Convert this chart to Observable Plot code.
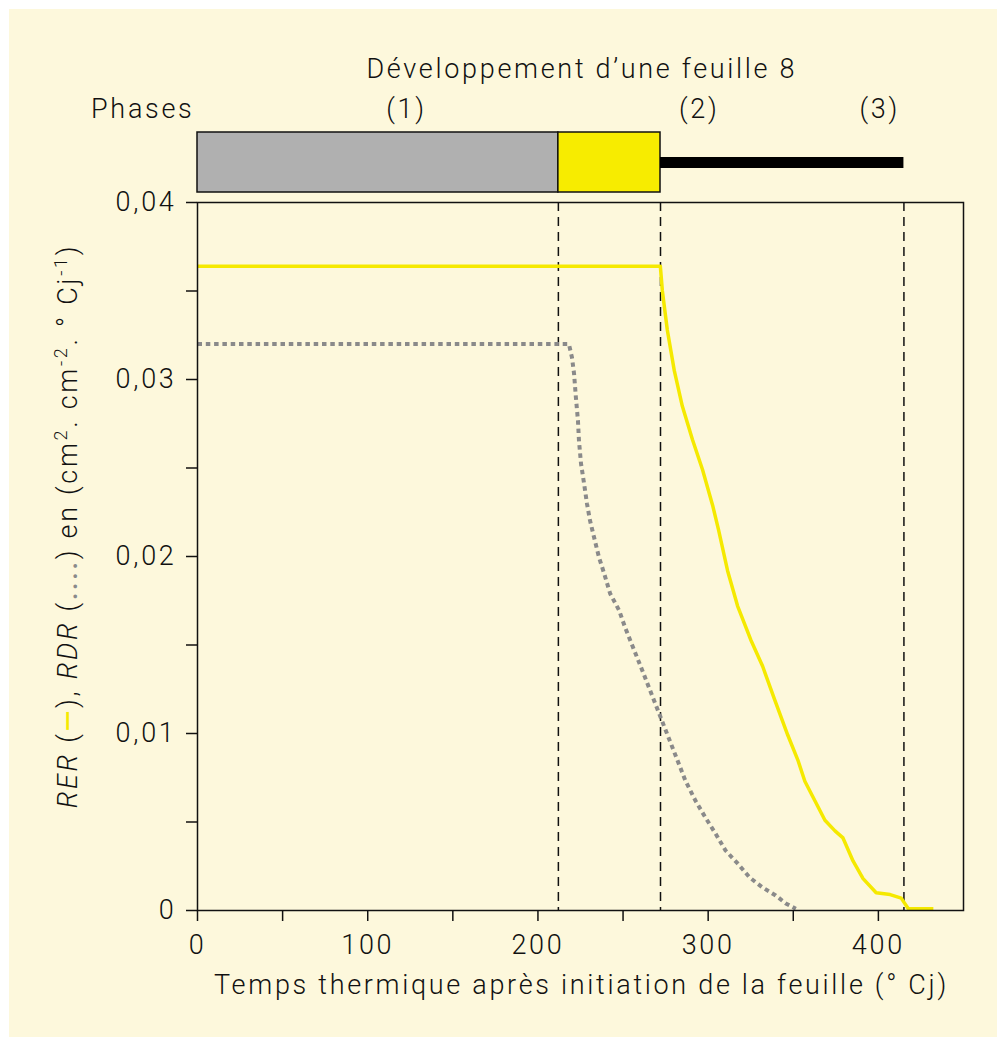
<!DOCTYPE html>
<html lang="fr">
<head>
<meta charset="utf-8">
<script src="https://cdn.jsdelivr.net/npm/d3@7"></script>
<script src="https://cdn.jsdelivr.net/npm/@observablehq/plot@0.6"></script>
<style>
  html, body { margin: 0; padding: 0; background: #ffffff; }
  #panel { position: absolute; left: 9px; top: 9px; right: 0; bottom: 0; background: #fdf8dc; }
  #chart { position: absolute; left: 0; top: 0; width: 997px; height: 1037px; }
  #chart svg { position: absolute; left: 0; top: 0; overflow: visible; }
</style>
</head>
<body>
<div id="panel"></div>
<div id="chart"></div>
<script>
// Thermal time (°Cj) and relative rates for leaf 8
const rerX = [0, 271.9, 273.1, 276.0, 280.1, 284.8, 290.8, 296.7, 302.6, 306.1, 311.4, 317.3, 325.0, 332.0, 339.1, 346.8, 352.7, 356.8, 362.7, 368.6, 374.5, 379.2, 385.1, 391.0, 398.7, 406.9, 413.4, 417.6, 432.3];
const rerY = [0.0364, 0.0364, 0.0350, 0.0328, 0.0305, 0.0285, 0.0266, 0.0249, 0.0229, 0.0215, 0.0192, 0.0172, 0.0153, 0.0138, 0.0119, 0.0099, 0.0085, 0.0073, 0.0062, 0.0051, 0.0045, 0.0041, 0.0028, 0.0018, 0.0010, 0.0009, 0.0007, 0.0001, 0.0001];

const rdrX = [0, 218.2, 220.0, 221.2, 222.3, 223.5, 224.1, 225.3, 227.1, 228.8, 230.6, 233.0, 235.9, 238.9, 242.4, 247.7, 251.2, 261.3, 271.9, 286.6, 292.5, 298.4, 304.3, 310.2, 317.3, 324.4, 332.0, 339.7, 345.6, 351.5];
const rdrY = [0.0320, 0.0320, 0.03124, 0.03034, 0.02898, 0.02768, 0.02655, 0.02525, 0.02412, 0.02299, 0.02203, 0.02107, 0.01994, 0.01904, 0.01791, 0.01695, 0.01599, 0.01356, 0.01096, 0.00734, 0.00621, 0.00525, 0.00435, 0.00339, 0.00266, 0.00186, 0.0013, 0.00085, 0.0004, 0.0001];

// Phase boundaries: start, end of phase 1, end of phase 2, end of phase 3
const phaseBounds = [0, 212, 272, 415];
const phaseColors = ["#b0b0b0", "#f7ec00"];
const phaseLabels = ["(1)", "(2)", "(3)"];
const phaseLabelX = [122, 294, 400];

const xTicks = [0, 50, 100, 150, 200, 250, 300, 350, 400];
const yTicks = [0, 0.005, 0.01, 0.015, 0.02, 0.025, 0.03, 0.035, 0.04];

const titleText = "Développement d\u2019une feuille 8";
const phasesText = "Phases";
const xLabel = "Temps thermique après initiation de la feuille (° Cj)";

const yellow = "#f5e900";
const grey = "#8a8a8a";
const font = "Roboto, 'Open Sans', sans-serif";

const rer = rerX.map((x, i) => ({x, y: rerY[i]}));
const rdr = rdrX.map((x, i) => ({x, y: rdrY[i]}));
const phaseRects = phaseColors.map((c, i) => ({x1: phaseBounds[i], x2: phaseBounds[i + 1], fill: c}));

const W = 997;
const M = {left: 197, right: 34};

const baseStyle = {background: "transparent", fontFamily: font, fontSize: "27px", fontWeight: 300, color: "#111", letterSpacing: "2.7px"};

const main = Plot.plot({
  width: W, height: 1037,
  marginLeft: M.left, marginRight: M.right, marginTop: 202, marginBottom: 127,
  x: {domain: [0, 450]},
  y: {domain: [0, 0.04]},
  style: baseStyle,
  marks: [
    Plot.ruleX(phaseBounds.slice(1), {stroke: "#111", strokeWidth: 1.5, strokeDasharray: "9,6"}),
    Plot.line(rdr, {x: "x", y: "y", stroke: grey, strokeWidth: 4, strokeDasharray: "4.5,3.8", strokeLinecap: "butt"}),
    Plot.line(rer, {x: "x", y: "y", stroke: yellow, strokeWidth: 3.5, strokeLinecap: "butt"}),
    Plot.axisX({ticks: xTicks, tickSize: 11, tickPadding: 13, strokeWidth: 1.5,
      tickFormat: d => d % 100 === 0 ? String(d) : "", label: null}),
    Plot.axisY({ticks: yTicks, tickSize: 11, tickPadding: 10, strokeWidth: 1.5,
      tickFormat: d => Math.abs(d * 100 - Math.round(d * 100)) > 1e-9 ? "" : (d === 0 ? "0" : d.toFixed(2).replace(".", ",")), label: null}),
    Plot.frame({stroke: "#111", strokeWidth: 1.5}),
    Plot.text([xLabel], {frameAnchor: "bottom", dy: 83, dx: 1, lineAnchor: "bottom", fontSize: 27})
  ]
});

// Rotated y-axis label with italic names, coloured line keys and superscripts
const parts = [
  {t: "RER", italic: true}, {t: " ("}, {t: "\u2014", fill: yellow}, {t: "), "},
  {t: "RDR", italic: true}, {t: " ("}, {t: "....", fill: grey}, {t: ") en (cm"},
  {t: "2", sup: true}, {t: ". cm"}, {t: "-2", sup: true}, {t: ". ° Cj"}, {t: "-1", sup: true}, {t: ")"}
];
const yl = d3.select(main).append("text")
  .attr("transform", "translate(77,526) rotate(-90)")
  .attr("text-anchor", "middle")
  .attr("font-size", 27)
  .attr("fill", "#111");
let shifted = false;
for (const p of parts) {
  const ts = yl.append("tspan").text(p.t);
  if (p.italic) ts.attr("font-style", "italic");
  if (p.fill) ts.attr("fill", p.fill).attr("font-weight", 500);
  if (p.sup) { ts.attr("font-size", 18).attr("dy", shifted ? 0 : -10); shifted = true; }
  else if (shifted) { ts.attr("dy", 10); shifted = false; }
}

const phases = Plot.plot({
  width: W, height: 202,
  marginLeft: M.left, marginRight: M.right, marginTop: 132, marginBottom: 10,
  x: {domain: [0, 450], axis: null},
  y: {domain: [0, 1], axis: null},
  color: {type: "identity"},
  style: baseStyle,
  marks: [
    Plot.rect(phaseRects, {x1: "x1", x2: "x2", y1: 0, y2: 1, fill: "fill", stroke: "#111", strokeWidth: 1.5}),
    Plot.ruleY([0.5], {x1: phaseBounds[2], x2: phaseBounds[3], stroke: "#000", strokeWidth: 11}),
    Plot.text(phaseLabels, {x: phaseLabelX, y: 1, dy: -15, dx: 1.3, lineAnchor: "bottom", text: d => d}),
    Plot.text([phasesText], {x: 0, y: 1, dx: -3, dy: -15, textAnchor: "end", lineAnchor: "bottom"}),
    Plot.text([titleText], {frameAnchor: "top", dy: -55, dx: 1.3, lineAnchor: "bottom"})
  ]
});

const chart = document.getElementById("chart");
chart.appendChild(main);
chart.appendChild(phases);
</script>
</body>
</html>
